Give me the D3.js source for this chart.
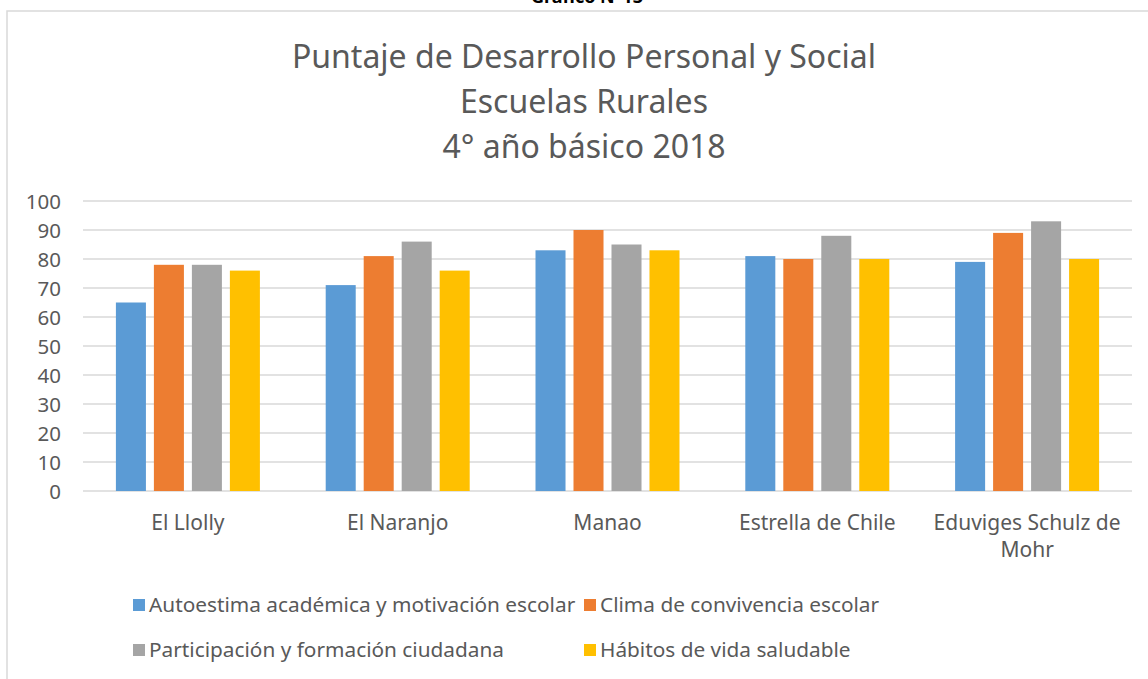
<!DOCTYPE html>
<html lang="es">
<head>
<meta charset="utf-8">
<title>Puntaje de Desarrollo Personal y Social</title>
<script src="https://d3js.org/d3.v7.min.js"></script>
<style>
  body { margin: 0; background: #fff; font-family: "Noto Sans", sans-serif; }
  .tick text { fill: #595959; }
</style>
</head>
<body>
<script>
  // ----------------------------------------------------
  // Data
  // ----------------------------------------------------
  const schools = ["El Llolly", "El Naranjo", "Manao", "Estrella de Chile", "Eduviges Schulz de Mohr"];
  const seriesNames = [
    "Autoestima académica y motivación escolar",
    "Clima de convivencia escolar",
    "Participación y formación ciudadana",
    "Hábitos de vida saludable"
  ];
  const autoestima    = [65, 71, 83, 81, 79];
  const clima         = [78, 81, 90, 80, 89];
  const participacion = [78, 86, 85, 88, 93];
  const habitos       = [76, 76, 83, 80, 80];
  const yTicks = [0, 10, 20, 30, 40, 50, 60, 70, 80, 90, 100];
  const titleLines = ["Puntaje de Desarrollo Personal y Social", "Escuelas Rurales", "4° año básico 2018"];

  const seriesValues = [autoestima, clima, participacion, habitos];
  const colors = ["#5b9bd5", "#ed7d31", "#a5a5a5", "#ffc000"];

  // ----------------------------------------------------
  // Layout
  // ----------------------------------------------------
  const width = 1148, height = 679;
  const margin = { left: 83, right: 16, top: 201, bottom: 188 };
  const textColor = "#595959";

  const svg = d3.select("body").append("svg")
    .attr("width", width)
    .attr("height", height);

  // outer frame of the chart (runs off the right / bottom edges)
  svg.append("rect")
    .attr("x", 7).attr("y", 11)
    .attr("width", 1170).attr("height", 700)
    .attr("fill", "none")
    .attr("stroke", "#d9d9d9")
    .attr("stroke-width", 1.5);

  // caption above the frame, mostly cut off like in the original
  svg.append("text")
    .attr("x", 587).attr("y", 3)
    .attr("text-anchor", "middle")
    .attr("font-size", 18)
    .attr("font-weight", "bold")
    .attr("fill", "#000")
    .text("Gráfico N°13");

  // title
  svg.append("g").selectAll("text")
    .data(titleLines)
    .join("text")
    .attr("x", 584)
    .attr("y", (d, i) => 68 + i * 45)
    .attr("text-anchor", "middle")
    .attr("font-size", 32)
    .attr("fill", textColor)
    .text(d => d);

  // ----------------------------------------------------
  // Scales
  // ----------------------------------------------------
  const x = d3.scaleBand()
    .domain(schools)
    .range([margin.left, width - margin.right])
    .padding(0);

  const xInner = d3.scaleBand()
    .domain(d3.range(seriesNames.length))
    .range([0, x.bandwidth()])
    .paddingInner(0.21)
    .paddingOuter(0.866);

  const y = d3.scaleLinear()
    .domain([0, 100])
    .range([height - margin.bottom, margin.top]);

  // gridlines
  svg.append("g")
    .selectAll("line")
    .data(yTicks)
    .join("line")
    .attr("x1", margin.left)
    .attr("x2", width - margin.right)
    .attr("y1", d => y(d))
    .attr("y2", d => y(d))
    .attr("stroke", "#d9d9d9")
    .attr("stroke-width", 1.3);

  // y axis labels
  const yAxis = svg.append("g")
    .attr("transform", `translate(${margin.left - 22},0)`)
    .call(d3.axisLeft(y).tickValues(yTicks).tickSize(0).tickPadding(0));
  yAxis.select(".domain").remove();
  yAxis.selectAll("text")
    .attr("font-family", "Noto Sans")
    .attr("font-size", 20.5)
    .attr("dy", "0.35em");

  // bars
  const groups = svg.append("g")
    .selectAll("g")
    .data(seriesValues)
    .join("g")
    .attr("fill", (d, i) => colors[i]);

  groups.each(function(vals, si) {
    d3.select(this).selectAll("rect")
      .data(vals)
      .join("rect")
      .attr("x", (v, ci) => x(schools[ci]) + xInner(si))
      .attr("width", xInner.bandwidth())
      .attr("y", v => y(v))
      .attr("height", v => y(0) - y(v));
  });

  // x axis labels (wrapped to the band width)
  const xAxis = svg.append("g")
    .attr("transform", `translate(0,${y(0)})`)
    .call(d3.axisBottom(x).tickSize(0).tickPadding(0));
  xAxis.select(".domain").remove();
  xAxis.selectAll("text")
    .attr("font-family", "Noto Sans")
    .attr("font-size", 21)
    .attr("y", 39)
    .attr("dy", 0)
    .each(function(d) {
      const t = d3.select(this);
      const words = d.split(" ");
      t.text(null);
      let line = [];
      let tspan = t.append("tspan").attr("x", 0).attr("dy", 0);
      words.forEach(w => {
        line.push(w);
        tspan.text(line.join(" "));
        if (tspan.node().getComputedTextLength() > x.bandwidth() - 20 && line.length > 1) {
          line.pop();
          tspan.text(line.join(" "));
          line = [w];
          tspan = t.append("tspan").attr("x", 0).attr("dy", 27).text(w);
        }
      });
    });

  // legend
  const legendCols = [133, 584];
  const legendRows = [605, 650];
  const legend = svg.append("g")
    .selectAll("g")
    .data(seriesNames)
    .join("g")
    .attr("transform", (d, i) => `translate(${legendCols[i % 2]},${legendRows[Math.floor(i / 2)]})`);

  legend.append("rect")
    .attr("x", 0).attr("y", -6)
    .attr("width", 12).attr("height", 12)
    .attr("fill", (d, i) => colors[i]);

  legend.append("text")
    .attr("x", 16)
    .attr("y", 0)
    .attr("dy", "0.35em")
    .attr("font-size", 20.8)
    .attr("fill", textColor)
    .text(d => d);
</script>
</body>
</html>
